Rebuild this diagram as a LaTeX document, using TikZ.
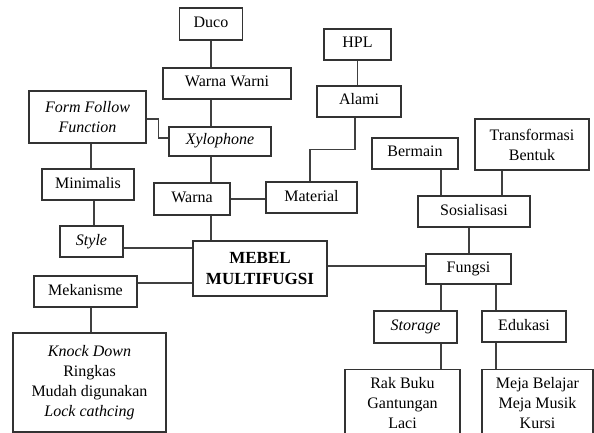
\documentclass[tikz,border=0pt]{standalone}
\usepackage{fontspec}
\setmainfont{Liberation Serif}
\begin{document}
\begin{tikzpicture}[x=1pt,y=-1pt,
  box/.style={draw=black!80, line width=1.2pt, font=\fontsize{16}{20}\selectfont, inner sep=0pt, align=center},
  one/.style={box, text height=11pt, text depth=4pt},
  link/.style={draw=black!75, line width=1.2pt}]
\useasboundingbox (0,0) rectangle (594,433);
\clip (0,0) rectangle (594,433);
% left/top cluster
\node[one, minimum width=63, minimum height=32] (duco) at (211,24) {Duco};
\node[one, minimum width=128, minimum height=31] (ww) at (227,83.5) {Warna Warni};
\node[box, minimum width=117, minimum height=52] (fff) at (87.5,117) {\itshape Form Follow\\\itshape Function};
\node[one, minimum width=102, minimum height=29] (xylo) at (220,141.5) {\itshape Xylophone};
\node[one, minimum width=92, minimum height=31] (mini) at (88,184.5) {Minimalis};
\node[one, minimum width=76, minimum height=32] (warna) at (192,199) {Warna};
\node[one, minimum width=91, minimum height=31] (mat) at (311.5,197.5) {Material};
\node[one, minimum width=63, minimum height=31] (style) at (91.5,241.5) {\itshape Style};
\node[box, minimum width=134, minimum height=55, font=\fontsize{17}{21}\selectfont\bfseries] (mebel) at (260,268.5) {MEBEL\\MULTIFUGSI};
\node[one, minimum width=103, minimum height=31] (meka) at (85.5,291.5) {Mekanisme};
\node[box, minimum width=153, minimum height=99] (knock) at (89.5,382.5) {\itshape Knock Down\\Ringkas\\Mudah digunakan\\\itshape Lock cathcing};
% right cluster
\node[one, minimum width=67, minimum height=31] (hpl) at (357.5,44.5) {HPL};
\node[one, minimum width=84, minimum height=31] (alami) at (359,101.5) {Alami};
\node[one, minimum width=86, minimum height=31] (bermain) at (415,153.5) {Bermain};
\node[box, minimum width=114, minimum height=51] (trans) at (532,144.5) {Transformasi\\Bentuk};
\node[one, minimum width=112, minimum height=31] (sos) at (474,211.5) {Sosialisasi};
\node[one, minimum width=85, minimum height=30] (fungsi) at (468.5,269) {Fungsi};
\node[one, minimum width=83, minimum height=32] (storage) at (415.5,327) {\itshape Storage};
\node[one, minimum width=84, minimum height=31] (edu) at (524,326.5) {Edukasi};
\node[box, minimum width=115, inner ysep=8pt, anchor=north] (rak) at (402.5,369) {Rak Buku\\Gantungan\\Laci};
\node[box, minimum width=111, inner ysep=8pt, anchor=north] (meja) at (537.5,369) {Meja Belajar\\Meja Musik\\Kursi};
% connectors
\coordinate (vx) at (211,0);
\draw[link] (duco.south -| vx) -- (ww.north -| vx);
\draw[link] (ww.south -| vx) -- (xylo.north -| vx);
\draw[link] (xylo.south -| vx) -- (warna.north -| vx);
\draw[link] (warna.south -| vx) -- (mebel.north -| vx);
\draw[link] ([yshift=-2pt]fff.east) -- ++(12,0) |- ([yshift=3.5pt]xylo.west);
\draw[link] ([xshift=3.5]fff.south) -- ([xshift=3.5]fff.south |- mini.north);
\draw[link] ([xshift=2.5]style.north) -- ([xshift=2.5]style.north |- mini.south);
\draw[link] ([yshift=-6.5pt]style.east) -- ([yshift=-6.5pt]style.east -| mebel.west);
\draw[link] (warna.east) -- (warna.east -| mat.west);
\draw[link] (hpl.south) -- (hpl.south |- alami.north);
\draw[link] ([xshift=-4]alami.south) -- ++(0,32) -| ([xshift=-1.5]mat.north);
\draw[link] ([yshift=8.5pt]meka.east) -- ([yshift=8.5pt]meka.east -| mebel.west);
\draw[link] ([xshift=1.5]knock.north) -- ([xshift=1.5]knock.north |- meka.south);
\draw[link] (mebel.east |- fungsi.west) ++(0,-3) -- ([yshift=3pt]fungsi.west);
\draw[link] ([xshift=26]bermain.south) -- ([xshift=26]bermain.south |- sos.north);
\draw[link] ([xshift=-30]trans.south) -- ([xshift=-30]trans.south |- sos.north);
\draw[link] ([xshift=0.5]fungsi.north) -- ([xshift=0.5]fungsi.north |- sos.south);
\draw[link] ([xshift=25.5]storage.north) -- ([xshift=25.5]storage.north |- fungsi.south);
\draw[link] ([xshift=-28]edu.north) -- ([xshift=-28]edu.north |- fungsi.south);
\draw[link] ([xshift=25.5]storage.south) -- ([xshift=25.5]storage.south |- rak.north);
\draw[link] ([xshift=-28]edu.south) -- ([xshift=-28]edu.south |- meja.north);
\end{tikzpicture}
\end{document}
